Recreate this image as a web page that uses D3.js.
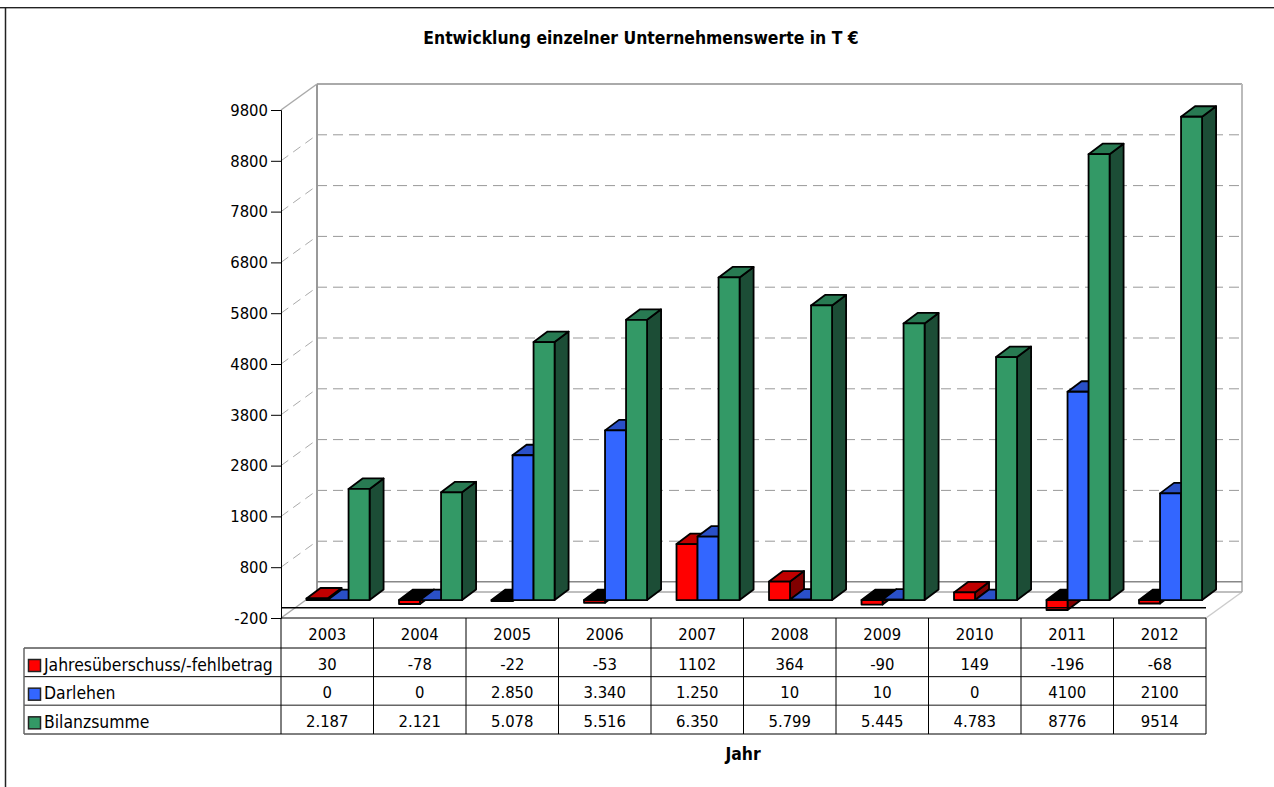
<!DOCTYPE html>
<meta charset="utf-8">
<style>
body { margin: 0; background: #fff; }
svg { display: block; }
text { font-family: "DejaVu Sans Condensed", "DejaVu Sans", sans-serif; fill: #000; }
.cell, .tick text { font-size: 16.5px; }
.name { font-size: 17.4px; }
.head { font-size: 17.4px; font-weight: bold; }
</style>
<svg width="1274" height="787"></svg>
<script src="https://d3js.org/d3.v7.min.js"></script>
<script>

var years = ["2003", "2004", "2005", "2006", "2007", "2008", "2009", "2010", "2011", "2012"];
var seriesNames = ["Jahresüberschuss/-fehlbetrag", "Darlehen", "Bilanzsumme"];
var jahres = [30, -78, -22, -53, 1102, 364, -90, 149, -196, -68];
var darlehen = [0, 0, 2850, 3340, 1250, 10, 10, 0, 4100, 2100];
var bilanz = [2187, 2121, 5078, 5516, 6350, 5799, 5445, 4783, 8776, 9514];
// table prints these as they stand in the source, mixed number formats
var jahresLabels = ["30", "-78", "-22", "-53", "1102", "364", "-90", "149", "-196", "-68"];
var darlehenLabels = ["0", "0", "2.850", "3.340", "1.250", "10", "10", "0", "4100", "2100"];
var bilanzLabels = ["2.187", "2.121", "5.078", "5.516", "6.350", "5.799", "5.445", "4.783", "8776", "9514"];
var yTicks = [-200, 800, 1800, 2800, 3800, 4800, 5800, 6800, 7800, 8800, 9800];

var seriesValues = [jahres, darlehen, bilanz];
var seriesLabels = [jahresLabels, darlehenLabels, bilanzLabels];
var colors = [
  {front: "#ff0000", top: "#c00000", side: "#800000"},
  {front: "#3366ff", top: "#2a50c8", side: "#1a3380"},
  {front: "#339966", top: "#287a52", side: "#1c4d36"}
];

var svg = d3.select("svg");

var left = 281, right = 1206, bottom = 618, top_ = 110;
var depthX = 36, depthY = 26;           // whole chart depth
var gapX = depthX * 0.3, gapY = depthY * 0.3;   // floor in front of the bars
var barDX = 14, barDY = 10.5;           // bar depth

var x = d3.scaleBand().domain(years).range([left, right]);
var y = d3.scaleLinear().domain([-200, 9800]).range([bottom, top_]);
var xs = d3.scaleBand().domain(d3.range(3)).range([0, x.bandwidth()]).paddingInner(0).paddingOuter(0.7);
var rowY = d3.scaleBand().domain(seriesNames).range([648, 734]);

function line(x1, y1, x2, y2, color, w, dash) {
  svg.append("line")
    .attr("x1", x1).attr("y1", y1).attr("x2", x2).attr("y2", y2)
    .attr("stroke", color).attr("stroke-width", w)
    .attr("stroke-dasharray", dash || null);
}

// outer frame, only top and left
line(0, 7.5, 1274, 7.5, "#222", 1);
line(0, 8.5, 1274, 8.5, "#aaa", 1);
line(5.5, 7, 5.5, 787, "#222", 1.5);

// title
svg.append("text").attr("class", "head").attr("x", 641).attr("y", 44).attr("text-anchor", "middle")
  .text("Entwicklung einzelner Unternehmenswerte in T €");
svg.append("text").attr("class", "head").attr("x", 743).attr("y", 760).attr("text-anchor", "middle")
  .text("Jahr");

// back wall
var backL = left + depthX, backR = right + depthX;
yTicks.slice(1, -1).forEach(function(t) {
  line(backL, y(t) - depthY, backR, y(t) - depthY, "#999", 1, "10,6");
  line(left, y(t), backL, y(t) - depthY, "#aaa", 1, "9,6");
});
line(backL, y(9800) - depthY, backR, y(9800) - depthY, "#aaa", 2);
line(backL, y(9800) - depthY, backL, y(-200) - depthY, "#999", 2);
line(backR, y(9800) - depthY, backR, y(-200) - depthY, "#bbb", 2);
line(left, y(9800), backL, y(9800) - depthY, "#aaa", 1.5);
line(left, y(-200), backL, y(-200) - depthY, "#aaa", 1.5);
line(right, y(-200), backR, y(-200) - depthY, "#ccc", 1.5);
line(backL, y(0) - depthY, backR, y(0) - depthY, "#888", 1.5);
line(backL, y(-200) - depthY, backR, y(-200) - depthY, "#aaa", 1.5);

// bars, back to front: one group per year, side and top first
var bars = svg.append("g").attr("stroke", "#000").attr("stroke-width", 1.8).attr("stroke-linejoin", "round");

function poly(pts, fill) {
  bars.append("polygon").attr("points", pts.join(" ")).attr("fill", fill);
}

years.forEach(function(year, i) {
  seriesValues.forEach(function(values, s) {
    var v = values[i], c = colors[s];
    var x0 = x(year) + gapX + xs(s), x1 = x0 + xs.bandwidth();
    var y0 = y(0) - gapY, yv = y(v) - gapY;
    var yTop = Math.min(y0, yv), yBot = Math.max(y0, yv);

    poly([[x1, yTop], [x1 + barDX, yTop - barDY], [x1 + barDX, yBot - barDY], [x1, yBot]], c.side);
    poly([[x0, yTop], [x0 + barDX, yTop - barDY], [x1 + barDX, yTop - barDY], [x1, yTop]], v < 0 ? "#000" : c.top);
    if (yBot > yTop) {
      bars.append("rect").attr("x", x0).attr("y", yTop)
        .attr("width", x1 - x0).attr("height", yBot - yTop).attr("fill", c.front);
    }
  });
});

// front edge of the floor
line(left, y(0), right, y(0), "#000", 1.5);

// y axis
svg.append("g")
  .attr("transform", "translate(" + left + ",0)")
  .call(d3.axisLeft(y).tickValues(yTicks).tickSize(10).tickPadding(3).tickFormat(String))
  .call(function(g) {
    g.selectAll("path, line").attr("stroke", "#000");
    g.selectAll("text").attr("fill", "#000");
    g.attr("font-family", null).attr("font-size", null);
  });

// data table
var tableL = 24;
line(left, bottom, right, bottom, "#000", 1);
line(tableL, 648, right, 648, "#000", 1);
seriesNames.forEach(function(name, s) {
  var yb = rowY(name) + rowY.bandwidth();
  line(tableL, yb, right, yb, s == 1 ? "#666" : "#000", s == 1 ? 1.5 : 1);
});
line(tableL, 648, tableL, 734, "#666", 1.5);
line(left, bottom, left, 734, "#000", 1);
years.forEach(function(year) {
  line(x(year) + x.bandwidth(), bottom, x(year) + x.bandwidth(), 734, "#000", 1);
  svg.append("text").attr("class", "cell")
    .attr("x", x(year) + x.bandwidth() / 2).attr("y", 640)
    .attr("text-anchor", "middle").text(year);
});
seriesNames.forEach(function(name, s) {
  var yb = rowY(name) + rowY.bandwidth();
  svg.append("rect").attr("x", 28.5).attr("y", rowY(name) + 11.5).attr("width", 12).attr("height", 12)
    .attr("fill", colors[s].front).attr("stroke", "#222").attr("stroke-width", 1.5);
  svg.append("text").attr("class", "name").attr("x", 44).attr("y", yb - 6).text(name);
  years.forEach(function(year, i) {
    svg.append("text").attr("class", "cell")
      .attr("x", x(year) + x.bandwidth() / 2).attr("y", yb - 7)
      .attr("text-anchor", "middle").text(seriesLabels[s][i]);
  });
});

</script>
